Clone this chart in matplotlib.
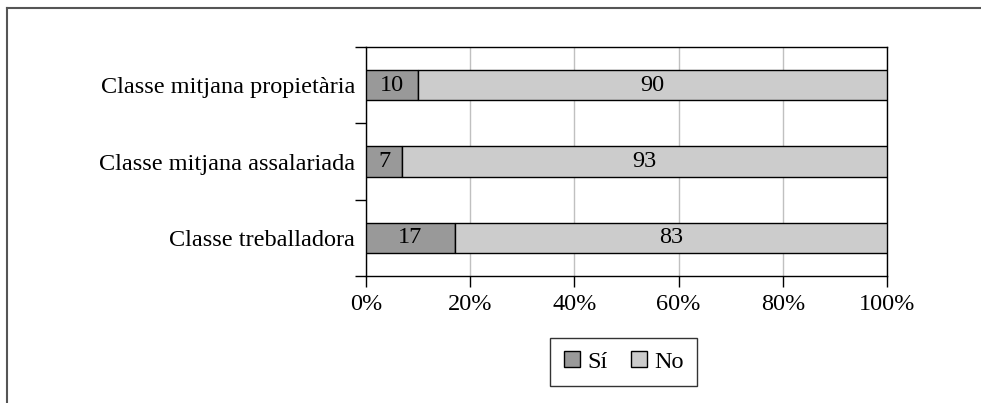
import matplotlib.pyplot as plt
from matplotlib.lines import Line2D
import numpy as np

# data, bottom to top
categories = ["Classe treballadora", "Classe mitjana assalariada", "Classe mitjana propietària"]
si_vals = [17, 7, 10]
no_vals = [83, 93, 90]
series_names = ["Sí", "No"]
xtick_vals = [0, 20, 40, 60, 80, 100]

plt.rcParams['font.family'] = ['Liberation Serif', 'DejaVu Serif']
plt.rcParams['font.size'] = 17.5

fig = plt.figure(figsize=(9.81, 4.03), dpi=100)
ax = fig.add_axes([0.3731, 0.3151, 0.5311, 0.5682])

y = np.arange(len(categories))
b1 = ax.barh(y, si_vals, height=0.4, color="#999999", edgecolor="black", linewidth=1, label=series_names[0], zorder=3)
b2 = ax.barh(y, no_vals, left=si_vals, height=0.4, color="#cccccc", edgecolor="black", linewidth=1, label=series_names[1], zorder=3)

for i in range(len(categories)):
    ax.text(si_vals[i] / 2, y[i], str(si_vals[i]), ha="center", va="center", zorder=4)
    ax.text(si_vals[i] + no_vals[i] / 2, y[i], str(no_vals[i]), ha="center", va="center", zorder=4)

ax.set_xlim(0, 100)
ax.set_ylim(-0.5, len(categories) - 0.5)
ax.set_xticks(xtick_vals)
ax.set_xticklabels([str(v) + "%" for v in xtick_vals])
ax.xaxis.grid(True, color="#c0c0c0", linewidth=1, zorder=0)

# boundary ticks on y, labels on centres
ax.set_yticks(np.arange(-0.5, len(categories), 1.0))
ax.set_yticklabels([])
ax.set_yticks(y, minor=True)
ax.set_yticklabels(categories, minor=True)
ax.tick_params(axis="y", which="minor", length=0, pad=8)
ax.tick_params(axis="y", which="major", length=8, width=1, direction="out")
ax.tick_params(axis="x", length=8, width=1, direction="out", pad=5)

for s in ax.spines.values():
    s.set_color("black")
    s.set_linewidth(1)

leg = fig.legend(handles=[b1, b2], loc="center", bbox_to_anchor=(0.636, 0.1017), ncol=2,
                 frameon=True, fancybox=False, edgecolor="black", handlelength=0.65, handleheight=0.65,
                 handletextpad=0.3, columnspacing=1.0, borderpad=0.55)
leg.get_frame().set_linewidth(1)

# outer frame (top and left)
fig.add_artist(Line2D([0.0071, 1.0], [0.980, 0.980], color="#555555", linewidth=1.5, transform=fig.transFigure))
fig.add_artist(Line2D([0.0071, 0.0071], [0.0, 0.980], color="#555555", linewidth=1.5, transform=fig.transFigure))

fig.savefig("out.png", dpi=100)
